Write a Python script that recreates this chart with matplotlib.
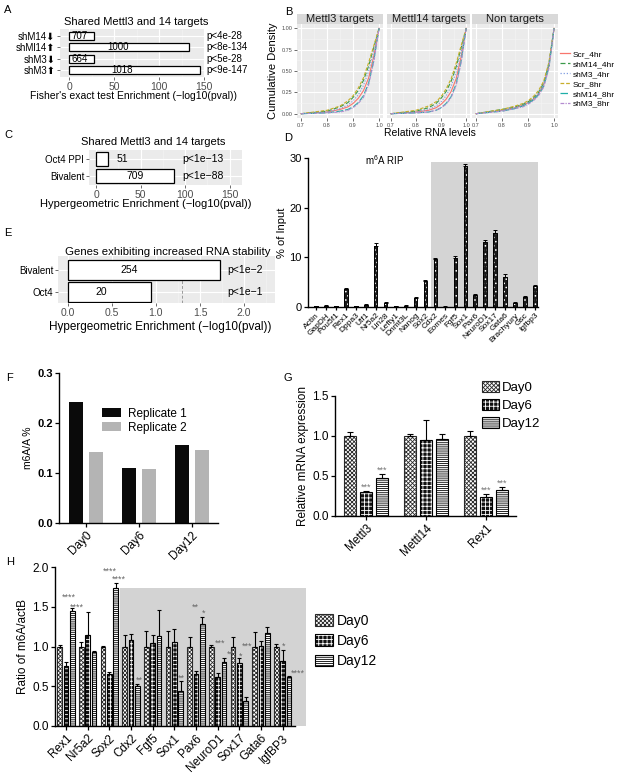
import matplotlib.pyplot as plt
from matplotlib.patches import Patch, Rectangle
from matplotlib.lines import Line2D

plt.rcParams['font.family'] = ['Liberation Sans', 'DejaVu Sans']
plt.rcParams['hatch.linewidth'] = 0.6
plt.rcParams['mathtext.default'] = 'regular'

# ---------------- data ----------------
# A
a_labels = ['shM14\u2b07', 'shMl14\u2b06', 'shM3\u2b07', 'shM3\u2b06']
a_counts = ['707', '1000', '664', '1018']
a_pvals = ['p<4e-28', 'p<8e-134', 'p<5e-28', 'p<9e-147']
a_enrich = [27.4, 133.1, 27.3, 146.0]

# B
b_facets = ['Mettl3 targets', 'Mettl14 targets', 'Non targets']
b_series = ['Scr_4hr', 'shM14_4hr', 'shM3_4hr', 'Scr_8hr', 'shM14_8hr', 'shM3_8hr']
b_x = [0.70, 0.80, 0.85, 0.88, 0.90, 0.92, 0.94, 0.96, 0.98, 1.00]
b_cdf = [
    {'Scr_4hr':   [0.00, 0.02, 0.05, 0.08, 0.12, 0.18, 0.27, 0.42, 0.68, 1.00],
     'shM14_4hr': [0.00, 0.03, 0.08, 0.13, 0.19, 0.27, 0.39, 0.56, 0.78, 1.00],
     'shM3_4hr':  [0.00, 0.02, 0.06, 0.10, 0.15, 0.22, 0.33, 0.50, 0.74, 1.00],
     'Scr_8hr':   [0.00, 0.04, 0.09, 0.15, 0.21, 0.30, 0.42, 0.60, 0.80, 1.00],
     'shM14_8hr': [0.00, 0.01, 0.03, 0.05, 0.08, 0.13, 0.21, 0.36, 0.63, 1.00],
     'shM3_8hr':  [0.00, 0.01, 0.02, 0.04, 0.07, 0.12, 0.19, 0.34, 0.61, 1.00]},
    {'Scr_4hr':   [0.00, 0.02, 0.04, 0.07, 0.11, 0.17, 0.26, 0.41, 0.67, 1.00],
     'shM14_4hr': [0.00, 0.03, 0.07, 0.12, 0.18, 0.26, 0.38, 0.55, 0.77, 1.00],
     'shM3_4hr':  [0.00, 0.02, 0.05, 0.09, 0.14, 0.21, 0.32, 0.49, 0.73, 1.00],
     'Scr_8hr':   [0.00, 0.04, 0.09, 0.14, 0.20, 0.29, 0.41, 0.59, 0.80, 1.00],
     'shM14_8hr': [0.00, 0.01, 0.02, 0.04, 0.07, 0.12, 0.20, 0.35, 0.62, 1.00],
     'shM3_8hr':  [0.00, 0.01, 0.02, 0.04, 0.07, 0.11, 0.19, 0.33, 0.60, 1.00]},
    {'Scr_4hr':   [0.00, 0.04, 0.07, 0.10, 0.13, 0.17, 0.23, 0.34, 0.56, 1.00],
     'shM14_4hr': [0.00, 0.05, 0.08, 0.11, 0.14, 0.18, 0.25, 0.36, 0.58, 1.00],
     'shM3_4hr':  [0.00, 0.04, 0.07, 0.10, 0.13, 0.17, 0.24, 0.35, 0.57, 1.00],
     'Scr_8hr':   [0.00, 0.05, 0.09, 0.12, 0.15, 0.20, 0.27, 0.38, 0.60, 1.00],
     'shM14_8hr': [0.00, 0.03, 0.06, 0.09, 0.12, 0.16, 0.22, 0.32, 0.54, 1.00],
     'shM3_8hr':  [0.00, 0.03, 0.06, 0.08, 0.11, 0.15, 0.21, 0.31, 0.53, 1.00]},
]
b_colors = ['#F8766D', '#3A9A4A', '#7F9BE0', '#C8AE2A', '#1FAFA8', '#B48CD0']
b_styles = ['-', (0, (4, 2)), (0, (1, 1.5)), (0, (3, 1.5)), (0, (6, 2)), (0, (3, 1, 1, 1))]

# C
c_labels = ['Oct4 PPI', 'Bivalent']
c_counts = ['51', '709']
c_pvals = ['p<1e\u221213', 'p<1e\u221288']
c_enrich = [13, 88]

# D
d_genes = ['Actin', 'GapDH', 'Pou5f1', 'Rex1', 'Dppa3', 'Utf1', 'Nr5a2', 'Lin28',
           'Lefty1', 'Dnmt3L', 'Nanog', 'Sox2', 'Cdx2', 'Eomes', 'Fgf5', 'Sox1',
           'Pax6', 'NeuroD1', 'Sox17', 'Gata6', 'Brachyury', 'Gsc', 'Igfbp3']
d_vals = [0.2, 0.3, 0.2, 3.6, 0.2, 0.45, 12.3, 0.9, 0.2, 0.3, 1.9, 5.3,
          9.6, 0.1, 9.8, 28.4, 2.5, 13.0, 14.9, 6.0, 0.8, 2.1, 4.3]
d_err = [0.1, 0.1, 0.05, 0.15, 0.05, 0.1, 0.5, 0.1, 0.05, 0.1, 0.15, 0.2,
         0.2, 0.05, 0.5, 0.3, 0.15, 0.4, 0.6, 0.6, 0.2, 0.15, 0.2]

# E
e_labels = ['Oct4', 'Bivalent']
e_counts = ['20', '254']
e_pvals = ['p<1e\u22121', 'p<1e\u22122']
e_enrich = [0.94, 1.73]

# F
f_days = ['Day0', 'Day6', 'Day12']
f_rep1 = [0.242, 0.110, 0.157]
f_rep2 = [0.142, 0.109, 0.147]

# G
g_genes = ['Mettl3', 'Mettl14', 'Rex1']
g_vals = [[1.0, 1.0, 1.0], [0.30, 0.95, 0.24], [0.47, 0.96, 0.32]]
g_err = [[0.05, 0.02, 0.06], [0.01, 0.25, 0.03], [0.05, 0.07, 0.04]]
g_stars = [[None, None, None], ['***', None, '***'], ['***', None, '***']]

# H
h_genes = ['Rex1', 'Nr5a2', 'Sox2', 'Cdx2', 'Fgf5', 'Sox1', 'Pax6', 'NeuroD1',
           'Sox17', 'Gata6', 'IgfBP3']
h_vals = [[1.0, 1.0, 1.0, 1.0, 1.0, 1.0, 1.0, 1.0, 1.0, 1.0, 1.0],
          [0.76, 1.15, 0.65, 1.08, 1.04, 1.06, 0.66, 0.62, 0.79, 1.01, 0.82],
          [1.45, 0.93, 1.73, 0.50, 1.13, 0.44, 1.28, 0.80, 0.31, 1.17, 0.62]]
h_err = [[0.02, 0.06, 0.01, 0.14, 0.19, 0.19, 0.12, 0.02, 0.12, 0.18, 0.03],
         [0.04, 0.28, 0.03, 0.08, 0.10, 0.16, 0.03, 0.05, 0.06, 0.06, 0.13],
         [0.03, 0.01, 0.07, 0.03, 0.33, 0.12, 0.09, 0.06, 0.05, 0.07, 0.01]]
# significance marks: (x in group units, y, text)
h_star_marks = [(0.11, 1.62, '****'), (0.49, 1.50, '****'), (2.03, 1.95, '****'),
                (2.42, 1.84, '****'), (3.37, 0.58, '**'), (5.34, 0.60, '**'),
                (5.95, 1.49, '**'), (6.34, 1.42, '*'), (7.10, 1.04, '***'),
                (7.60, 0.90, '**'), (8.37, 1.00, '***'), (8.06, 0.88, '*'),
                (10.06, 1.00, '*'), (10.70, 0.67, '****')]
day_names = ['Day0', 'Day6', 'Day12']

# ---------------- helpers ----------------
W, H = 623.0, 774.0
fig = plt.figure(figsize=(6.23, 7.74), dpi=100)


def add_ax(x0, y0, x1, y1):
    return fig.add_axes([x0 / W, 1 - y1 / H, (x1 - x0) / W, (y1 - y0) / H])


def ptext(x, y, s, **kw):
    kw.setdefault('ha', 'center')
    kw.setdefault('va', 'center')
    fig.text(x / W, 1 - y / H, s, **kw)


def gg_style(ax):
    ax.set_facecolor('#EBEBEB')
    for s in ax.spines.values():
        s.set_visible(False)
    ax.set_axisbelow(True)
    ax.grid(True, which='major', color='white', lw=0.8)
    ax.grid(True, which='minor', color='#F5F5F5', lw=0.4)
    ax.tick_params(which='major', length=2, width=0.5, color='#333333',
                   labelcolor='#4D4D4D', pad=1.5)
    ax.tick_params(which='minor', length=0)


def prism_style(ax, fs=8):
    for s in ['top', 'right']:
        ax.spines[s].set_visible(False)
    for s in ['left', 'bottom']:
        ax.spines[s].set_linewidth(1.0)
    ax.tick_params(length=3, width=0.9, labelsize=fs, pad=1.5)


HATCH0 = 'xxxxxxxx'
HATCH1 = '++++'
HATCH2 = '--------'


def day_bar(ax, x, h, w, k):
    if k == 0:
        ax.bar(x, h, w, facecolor='white', edgecolor='#2A2A2A', hatch=HATCH0,
               lw=0.8, zorder=2)
    elif k == 1:
        ax.bar(x, h, w, facecolor='#111111', edgecolor='white', hatch=HATCH1,
               lw=0, zorder=2)
        ax.bar(x, h, w, facecolor='none', edgecolor='black', lw=0.8, zorder=3)
    else:
        ax.bar(x, h, w, facecolor='white', edgecolor='black', hatch=HATCH2,
               lw=0.8, zorder=2)


def day_handles():
    return [Patch(facecolor='white', edgecolor='#2A2A2A', hatch=HATCH0, lw=0.8),
            (Patch(facecolor='#111111', edgecolor='white', hatch=HATCH1, lw=0),
             Patch(facecolor='none', edgecolor='black', lw=0.8)),
            Patch(facecolor='white', edgecolor='black', hatch=HATCH2, lw=0.8)]


def enrich_panel(ax, labels, vals, height):
    gg_style(ax)
    y = list(range(len(labels)))
    ax.barh(y, vals, height=height, color='white', edgecolor='black', lw=0.9, zorder=2)
    ax.set_yticks(y)
    ax.set_yticklabels(labels, fontsize=7, color='black')
    ax.tick_params(axis='x', labelsize=7.5)
    return y


# ---------------- panel labels ----------------
for lab, x, y in [('A', 8, 10), ('B', 289, 12), ('C', 8, 135), ('D', 288, 138),
                  ('E', 8, 233), ('F', 10, 378), ('G', 288, 378), ('H', 10, 562)]:
    ptext(x, y, lab, fontsize=8)

# ---------------- A ----------------
ax = add_ax(60, 29, 205, 77)
ya = enrich_panel(ax, a_labels, a_enrich, 0.72)
ax.set_xlim(-10, 151)
ax.set_ylim(3.6, -0.6)
ax.set_xticks([0, 50, 100, 150])
ax.set_xticks([25, 75, 125], minor=True)
for i in ya:
    ax.text(0.4 * a_enrich[i] + 1, i, a_counts[i], ha='center', va='center', fontsize=7)
    ax.text(1.012, i, a_pvals[i], transform=ax.get_yaxis_transform(),
            ha='left', va='center', fontsize=7)
ptext(136, 22, 'Shared Mettl3 and 14 targets', fontsize=8)
ptext(133, 96, "Fisher's exact test Enrichment (\u2212log10(pval))", fontsize=7.5)

# ---------------- B ----------------
facet_x = [(297, 383), (387, 470), (472, 558)]
for k, (x0, x1) in enumerate(facet_x):
    ax = add_ax(x0, 24, x1, 118)
    gg_style(ax)
    for name, col, ls in zip(b_series, b_colors, b_styles):
        ax.plot(b_x, b_cdf[k][name], color=col, ls=ls, lw=0.8)
    ax.set_xlim(0.685, 1.015)
    ax.set_ylim(-0.05, 1.05)
    ax.set_xticks([0.7, 0.8, 0.9, 1.0])
    ax.set_xticklabels(['0.7', '0.8', '0.9', '1.0'])
    ax.set_xticks([0.75, 0.85, 0.95], minor=True)
    ax.set_yticks([0, 0.25, 0.5, 0.75, 1.0])
    ax.set_yticks([0.125, 0.375, 0.625, 0.875], minor=True)
    ax.tick_params(labelsize=4)
    if k == 0:
        ax.set_yticklabels(['0.00', '0.25', '0.50', '0.75', '1.00'])
    else:
        ax.tick_params(axis='y', length=0, labelleft=False)
    st = add_ax(x0, 14, x1, 24)
    st.set_facecolor('#D9D9D9')
    st.set_xticks([])
    st.set_yticks([])
    for s in st.spines.values():
        s.set_visible(False)
    st.text(0.5, 0.45, b_facets[k], transform=st.transAxes, ha='center',
            va='center', fontsize=8, color='#1A1A1A')
ax.legend([Line2D([], [], color=c, ls=s, lw=0.9) for c, s in zip(b_colors, b_styles)],
          b_series, loc='upper left', bbox_to_anchor=(557 / W, 1 - 47 / H),
          bbox_transform=fig.transFigure, frameon=False, fontsize=6,
          handlelength=1.2, labelspacing=0.25, handletextpad=0.3, borderaxespad=0)
ptext(273, 71, 'Cumulative Density', fontsize=8, rotation=90)
ptext(430, 133, 'Relative RNA levels', fontsize=7.5)

# ---------------- C ----------------
ax = add_ax(89, 150, 242, 185)
yc = enrich_panel(ax, c_labels, c_enrich, 0.85)
ax.set_xlim(-8, 164)
ax.set_ylim(-0.55, 1.55)
ax.invert_yaxis()
ax.set_xticks([0, 50, 100, 150])
ax.set_xticks([25, 75, 125], minor=True)
for i in yc:
    ax.text(max(c_enrich[i] / 2, 30), i, c_counts[i], ha='center', va='center', fontsize=7.5)
    ax.text(97, i, c_pvals[i], ha='left', va='center', fontsize=7.5)
ax.tick_params(axis='y', labelsize=7)
ptext(153, 142, 'Shared Mettl3 and 14 targets', fontsize=8)
ptext(146, 204, 'Hypergeometric Enrichment (\u2212log10(pval))', fontsize=8)

# ---------------- D ----------------
ax = add_ax(308, 158, 538, 307)
prism_style(ax, fs=8)
xd = list(range(len(d_genes)))
ax.add_patch(Rectangle((11.55, 0), 22.3 - 11.55, 29.2, facecolor='#D4D4D4',
                       edgecolor='none', zorder=0))
ax.bar(xd, d_vals, 0.36, facecolor='#1A1A1A', edgecolor='white', hatch='....',
       lw=0, zorder=2)
ax.bar(xd, d_vals, 0.36, facecolor='none', edgecolor='black', lw=0.7, zorder=3)
ax.errorbar(xd, d_vals, yerr=[[0] * len(d_err), d_err], fmt='none', ecolor='black',
            elinewidth=0.7, capsize=1.2, capthick=0.7, zorder=4)
ax.set_xlim(-0.8, 22.3)
ax.set_ylim(0, 30)
ax.set_yticks([0, 10, 20, 30])
ax.set_xticks(xd)
ax.set_xticklabels(d_genes, rotation=45, ha='right', rotation_mode='anchor', fontsize=6)
ax.tick_params(axis='x', length=2.5, pad=1)
ax.set_ylabel('% of Input', fontsize=8, labelpad=2)
ptext(385, 160, 'm$^{6}$A RIP', fontsize=7)

# ---------------- E ----------------
ax = add_ax(58, 256, 275, 303)
ye = enrich_panel(ax, e_labels, e_enrich, 0.9)
ax.set_xlim(-0.11, 2.35)
ax.set_ylim(-0.5, 1.64)
ax.set_xticks([0, 0.5, 1.0, 1.5, 2.0])
ax.set_xticklabels(['0.0', '0.5', '1.0', '1.5', '2.0'])
ax.set_xticks([0.25, 0.75, 1.25, 1.75, 2.25], minor=True)
ax.axvline(1.30, color='#9A9A9A', ls=(0, (3, 2)), lw=0.7, zorder=1)
for i in ye:
    ax.text(0.4 * e_enrich[i], i, e_counts[i], ha='center', va='center', fontsize=7.5)
    ax.text(1.81, i, e_pvals[i], ha='left', va='center', fontsize=7.5)
ptext(168, 252, 'Genes exhibiting increased RNA stability', fontsize=8.2)
ptext(160, 327, 'Hypergeometric Enrichment (\u2212log10(pval))', fontsize=8.5)

# ---------------- F ----------------
ax = add_ax(59, 373, 218, 523)
prism_style(ax, fs=8)
xf = list(range(len(f_days)))
ax.bar([x - 0.19 for x in xf], f_rep1, 0.26, color='#0A0A0A', label='Replicate 1')
ax.bar([x + 0.19 for x in xf], f_rep2, 0.26, color='#B4B4B4', label='Replicate 2')
ax.set_xlim(-0.51, 2.49)
ax.set_ylim(0, 0.3)
ax.set_yticks([0, 0.1, 0.2, 0.3])
ax.set_yticklabels(['0.0', '0.1', '0.2', '0.3'], fontweight='bold')
ax.set_xticks(xf)
ax.set_xticklabels(f_days, rotation=45, ha='right', rotation_mode='anchor', fontsize=8.5)
ax.set_ylabel('m6A/A %', fontsize=7.5, labelpad=3)
ax.legend(loc='upper left', bbox_to_anchor=(97 / W, 1 - 403 / H),
          bbox_transform=fig.transFigure, frameon=False, fontsize=8.5,
          handlelength=1.6, handleheight=0.8, labelspacing=0.2, borderaxespad=0,
          handletextpad=0.6)

# ---------------- G ----------------
ax = add_ax(335, 396, 516, 516)
prism_style(ax, fs=8.5)
offs = [-0.267, 0, 0.267]
for k in range(3):
    xs = [i + offs[k] for i in range(len(g_genes))]
    for x, h in zip(xs, g_vals[k]):
        day_bar(ax, x, h, 0.19, k)
    ax.errorbar(xs, g_vals[k], yerr=[[0] * 3, g_err[k]], fmt='none', ecolor='black',
                elinewidth=0.8, capsize=2.2, capthick=0.8, zorder=4)
    for x, h, e, s in zip(xs, g_vals[k], g_err[k], g_stars[k]):
        if s:
            ax.text(x, h + e + 0.05, s, ha='center', va='center', fontsize=6.5,
                    color='#777777')
ax.set_xlim(-0.52, 2.5)
ax.set_ylim(0, 1.5)
ax.set_yticks([0, 0.5, 1.0, 1.5])
ax.set_yticklabels(['0.0', '0.5', '1.0', '1.5'])
ax.set_xticks(range(len(g_genes)))
ax.set_xticklabels(g_genes, rotation=45, ha='right', rotation_mode='anchor', fontsize=8.5)
ax.set_ylabel('Relative mRNA expression', fontsize=8.5, labelpad=2)
ax.legend(day_handles(), day_names, loc='upper left',
          bbox_to_anchor=(477 / W, 1 - 376 / H), bbox_transform=fig.transFigure,
          frameon=False, fontsize=9.5, handlelength=1.3, handleheight=0.9,
          labelspacing=0.35, borderaxespad=0, handletextpad=0.2)

# ---------------- H ----------------
ax = add_ax(55, 567, 295, 726)
prism_style(ax, fs=8.5)
ax.add_patch(Rectangle((2.5, 0), 11.1 - 2.5, 1.74, facecolor='#D3D3D3',
                       edgecolor='none', zorder=0, clip_on=False))
offs = [-0.29, 0, 0.29]
for k in range(3):
    xs = [i + offs[k] for i in range(len(h_genes))]
    for x, h in zip(xs, h_vals[k]):
        day_bar(ax, x, h, 0.22, k)
    ax.errorbar(xs, h_vals[k], yerr=[[0] * len(h_genes), h_err[k]], fmt='none',
                ecolor='black', elinewidth=0.8, capsize=1.6, capthick=0.8, zorder=4)
for x, y, s in h_star_marks:
    ax.text(x, y, s, ha='center', va='center', fontsize=6.5, color='#666666',
            clip_on=False)
ax.set_xlim(-0.51, 10.57)
ax.set_ylim(0, 2.0)
ax.set_yticks([0, 0.5, 1.0, 1.5, 2.0])
ax.set_yticklabels(['0.0', '0.5', '1.0', '1.5', '2.0'])
ax.set_xticks(range(len(h_genes)))
ax.set_xticklabels(h_genes, rotation=45, ha='right', rotation_mode='anchor', fontsize=8.5)
ax.set_ylabel('Ratio of m6A/actB', fontsize=8.5, labelpad=2)
ax.legend(day_handles(), day_names, loc='upper left',
          bbox_to_anchor=(309 / W, 1 - 608 / H), bbox_transform=fig.transFigure,
          frameon=False, fontsize=10, handlelength=1.3, handleheight=0.9,
          labelspacing=0.45, borderaxespad=0, handletextpad=0.3)

fig.savefig('out.png', dpi=100)
